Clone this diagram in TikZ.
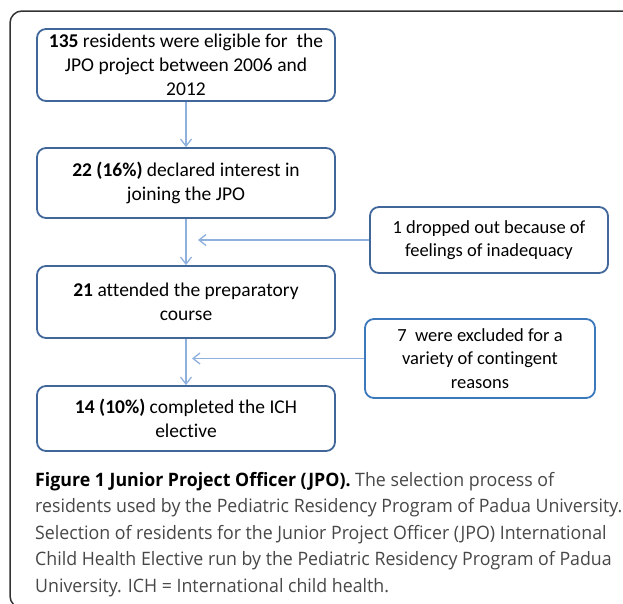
\documentclass[tikz,border=0pt]{standalone}
\usepackage{fontspec}
\setmainfont{Carlito}[Ligatures=NoCommon]
\newfontfamily\capfont{Open Sans}[FakeStretch=0.96]
\usetikzlibrary{arrows.meta}

\definecolor{boxblue}{HTML}{41679A}
\definecolor{sideblue}{HTML}{3B78BC}
\definecolor{arrowblue}{HTML}{8FB0DC}
\definecolor{capgray}{HTML}{474747}
\definecolor{framegray}{HTML}{333333}

\tikzset{
	stage/.style={draw=boxblue, line width=1.8pt, rounded corners=9pt,
		minimum width=298pt, align=center, inner sep=2pt,
		font=\fontsize{19.5}{24}\selectfont},
	dropbox/.style={stage, font=\fontsize{18.5}{23.5}\selectfont},
	flow/.style={draw=arrowblue, line width=1.3pt,
		-{Straight Barb[length=7pt,width=11pt]}}
}

\begin{document}
\begin{tikzpicture}[x=1pt,y=-1pt]
	\useasboundingbox (0,0) rectangle (623,603);
	% outer frame, only the top and left sides show
	\draw[framegray, line width=1.5pt, rounded corners=12pt]
		(660,11)--(10,11)--(10,608)--(660,608);
	
	\node[stage, minimum height=72pt] at (186,65)(0){\textbf{135} residents were eligible for\ \ the\\JPO project between 2006 and\\2012};
	\node[stage, minimum height=70pt] at (186,183)(1){\textbf{22 (16\%)} declared interest in\\joining the JPO};
	\node[stage, minimum height=72pt] at (186,302)(2){\textbf{21} attended the preparatory\\course};
	\node[stage, minimum height=65pt] at (186,418.5)(3){\textbf{14 (10\%)} completed the ICH\\elective};
	
	\node[dropbox, minimum width=238pt, minimum height=66pt] at (489,240)(a){1 dropped out because of\\feelings of inadequacy};
	\node[dropbox, draw=sideblue, minimum width=230pt, minimum height=79pt] at (480,358.5)(b){7\ \ were excluded for a\\variety of contingent\\reasons};
	\coordinate (ta) at (198,240);
	\coordinate (tb) at (192,358.5);
	
	\path[flow] (0) edge (1)
	(1) edge (2)
	(2) edge (3)
	(a) edge (ta)
	(b) edge (tb);
	
	\node[anchor=north west, align=left, inner sep=0pt, text=capgray,
		font=\capfont\fontsize{18.5}{26.5}\selectfont] at (35,472)(cap){{\color{black}\bfseries Figure 1 Junior Project Officer (JPO).} The selection process of\\
		residents used by the Pediatric Residency Program of Padua University.\\
		Selection of residents for the Junior Project Officer (JPO) International\\
		Child Health Elective run by the Pediatric Residency Program of Padua\\
		University. ICH = International child health.};
\end{tikzpicture}
\end{document}
